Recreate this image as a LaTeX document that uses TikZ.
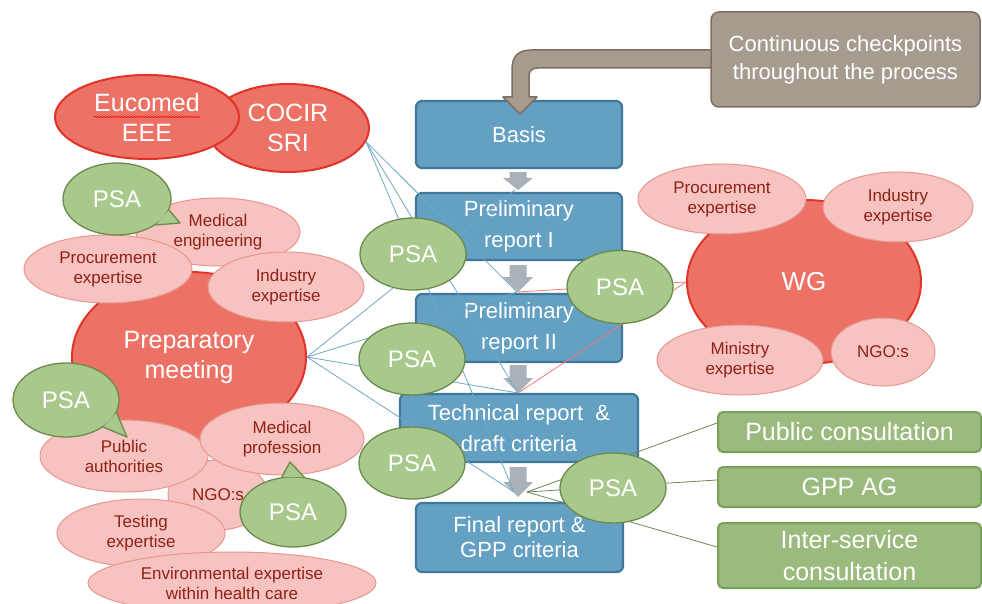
\documentclass[tikz,border=0pt]{standalone}
\usepackage{fontspec}
\setmainfont{Liberation Sans}
\usetikzlibrary{shapes.geometric,decorations.pathmorphing}
\definecolor{bluefill}{HTML}{64A0C2}
\definecolor{bluedraw}{HTML}{41789A}
\definecolor{redfill}{HTML}{EC7266}
\definecolor{reddraw}{HTML}{E2332A}
\definecolor{pinkfill}{HTML}{F6C3C0}
\definecolor{pinkdraw}{HTML}{E8968F}
\definecolor{pinktext}{HTML}{8F2117}
\definecolor{psafill}{HTML}{A9C98C}
\definecolor{psadraw}{HTML}{6C8A4C}
\definecolor{gboxfill}{HTML}{9BBB7E}
\definecolor{gboxdraw}{HTML}{77A05A}
\definecolor{brownfill}{HTML}{A69B8F}
\definecolor{browndraw}{HTML}{7E6F62}
\definecolor{greyarrow}{HTML}{A8B2B8}
\definecolor{blinecol}{HTML}{6FA7C6}
\definecolor{rlinecol}{HTML}{F07A74}
\definecolor{glinecol}{HTML}{6F8554}
\pgfdeclarelayer{base}
\pgfdeclarelayer{lines}
\pgfsetlayers{base,lines,main}
\begin{document}
\begin{tikzpicture}[x=1pt,y=-1pt,
  bluebox/.style={rectangle, rounded corners=6pt, fill=bluefill, draw=bluedraw, line width=2.2pt, text=white, align=center, inner sep=0pt, font=\fontsize{22}{31}\selectfont},
  redell/.style={ellipse, fill=redfill, draw=reddraw, line width=2pt, text=white, align=center, inner sep=0pt, font=\fontsize{25}{30}\selectfont},
  pinkell/.style={ellipse, fill=pinkfill, draw=pinkdraw, line width=1pt, text=pinktext, align=center, inner sep=0pt, font=\fontsize{17}{20}\selectfont},
  psa/.style={ellipse, fill=psafill, draw=psadraw, line width=1.3pt, text=white, inner sep=0pt, minimum width=106pt, minimum height=72pt, font=\fontsize{24}{28}\selectfont},
  tail/.style={fill=psafill, draw=psadraw, line width=1.3pt, line join=round},
  gbox/.style={rectangle, rounded corners=5pt, fill=gboxfill, draw=gboxdraw, line width=2pt, text=white, align=center, inner sep=0pt, minimum width=263pt, font=\fontsize{25}{32}\selectfont},
  brownbox/.style={rectangle, rounded corners=8pt, fill=brownfill, draw=browndraw, line width=1.5pt, text=white, align=center, inner sep=0pt, font=\fontsize{22}{28}\selectfont},
  greyarr/.style={fill=greyarrow},
  bline/.style={draw=blinecol, line width=0.8pt},
  rline/.style={draw=rlinecol, line width=0.8pt},
  gline/.style={draw=glinecol, line width=0.8pt}
]
\useasboundingbox (0,0) rectangle (982,604);

% ---------- base layer: process boxes, grey arrows, checkpoint box ----------
\begin{pgfonlayer}{base}
\node[bluebox, minimum width=206pt, minimum height=67pt] (basis) at (519,134.5) {Basis};
\node[bluebox, minimum width=206pt, minimum height=67pt] (prel1) at (519,226.5) {Preliminary\\report I};
\node[bluebox, minimum width=206pt, minimum height=68pt] (prel2) at (519,328) {Preliminary\\report II};
\node[bluebox, minimum width=238pt, minimum height=68pt] (tech) at (519,428) {Technical report~~\&\\draft criteria};
\node[bluebox, minimum width=207pt, minimum height=69pt, font=\fontsize{22}{25}\selectfont] (final) at (519.5,537.5) {Final report \&\\GPP criteria};

\foreach \t/\hs/\tip in {172/178/190, 265/277/292, 365/378/393, 467/482/497}{
  \fill[greyarr] (509.5,\t) -- (526.5,\t) -- (526.5,\hs) -- (533,\hs) -- (518,\tip)
    -- (503,\hs) -- (509.5,\hs) -- cycle;
}

\fill[brownfill, draw=browndraw, line width=1.5pt, line join=round]
  (715,50) -- (532,50) .. controls (518,50) and (512,56) .. (512,70)
  -- (512,97) -- (503,97) -- (520,114) -- (537,97) -- (529,97) -- (529,76)
  .. controls (529,71) and (532,68) .. (538,68) -- (715,68) -- cycle;
\node[brownbox, minimum width=269pt, minimum height=95pt] (check) at (845.5,59.5)
  {Continuous checkpoints\\throughout the process};
\end{pgfonlayer}

\coordinate (t1) at (515,190);
\coordinate (t2) at (517,292);
\coordinate (t3) at (518,393);
\coordinate (t4) at (514,492);
\coordinate (g0) at (527,492);

% ---------- top red ellipses ----------
\node[redell, minimum width=162pt, minimum height=88pt] (cocir) at (288,128) {COCIR\\SRI};
\node[redell, minimum width=184pt, minimum height=84pt] (eucomed) at (147,117) {Eucomed\\EEE};
\draw[red, line width=0.6pt, decorate, decoration={snake, amplitude=0.7pt, segment length=3pt}] (94,117) -- (200,117);

% ---------- left cluster ----------
\node[redell, minimum width=234pt, minimum height=170pt] (prep) at (189,357) {Preparatory\\meeting};
\node[pinkell, minimum width=164pt, minimum height=68pt] (medeng) at (218,232) {Medical\\engineering};
\node[pinkell, minimum width=168pt, minimum height=68pt] (procL) at (108,269) {Procurement\\expertise};
\node[pinkell, minimum width=156pt, minimum height=70pt] (indL) at (286,287) {Industry\\expertise};
\node[pinkell, minimum width=100pt, minimum height=70pt] (ngoL) at (218,495) {NGO:s};
\node[pinkell, minimum width=168pt, minimum height=72pt] (pubauth) at (124,456) {Public\\authorities};
\node[pinkell, minimum width=164pt, minimum height=72pt] (medprof) at (282,439) {Medical\\profession};
\node[pinkell, minimum width=168pt, minimum height=68pt] (testing) at (141,533) {Testing\\expertise};
\node[pinkell, minimum width=288pt, minimum height=62pt] (env) at (232,583) {Environmental expertise\\within health care};

% callouts
\node[psa, minimum width=108pt] (cA) at (117,199) {PSA};
\filldraw[tail] (cA.-12) -- (180,223) -- (cA.-34);
\node[psa, minimum height=74pt] (cB) at (66,400) {PSA};
\filldraw[tail] (cB.-14) -- (127,437) -- (cB.-36);
\node[psa, minimum height=70pt] (cC) at (293,512) {PSA};
\filldraw[tail] (cC.108) -- (290,462) -- (cC.72);

% ---------- right cluster ----------
\node[redell, minimum width=234pt, minimum height=164pt, font=\fontsize{26}{30}\selectfont] (wg) at (804,282) {WG};
\node[pinkell, minimum width=168pt, minimum height=70pt] (procR) at (722,199) {Procurement\\expertise};
\node[pinkell, minimum width=150pt, minimum height=70pt] (indR) at (898,207) {Industry\\expertise};
\node[pinkell, minimum width=166pt, minimum height=70pt] (minR) at (740,360) {Ministry\\expertise};
\node[pinkell, minimum width=104pt, minimum height=68pt] (ngoR) at (883,352) {NGO:s};

% ---------- PSAs on the process ----------
\node[psa] (psa1) at (413,254) {PSA};
\node[psa] (psa2) at (412,359) {PSA};
\node[psa] (psa3) at (412,463) {PSA};
\node[psa, minimum height=73pt] (psa4) at (620,287) {PSA};
\node[psa, minimum height=70pt] (psa5) at (613,488) {PSA};

% ---------- consultation boxes ----------
\node[gbox, minimum height=40pt] (pubc) at (849.5,432) {Public consultation};
\node[gbox, minimum height=40pt] (gppag) at (849.5,487) {GPP AG};
\node[gbox, minimum height=65pt] (inter) at (849.5,555.5) {Inter-service\\consultation};

% ---------- connectors ----------
\begin{pgfonlayer}{lines}
\draw[bline] (cocir.-10) -- (t2);
\draw[bline] (cocir.-10) -- (t3);
\draw[bline] (cocir.-10) -- (t4);
\draw[bline] (prep.east) -- (t1);
\draw[bline] (prep.east) -- (t2);
\draw[bline] (prep.east) -- (t3);
\draw[bline] (prep.east) -- (t4);
\draw[rline] (wg.west) -- (t2);
\draw[rline] (wg.west) -- (t3);
\draw[gline] (g0) -- ([yshift=9pt]pubc.west);
\draw[gline] (g0) -- ([yshift=7pt]gppag.west);
\draw[gline] (g0) -- ([yshift=8.5pt]inter.west);
\end{pgfonlayer}
\end{tikzpicture}
\end{document}
